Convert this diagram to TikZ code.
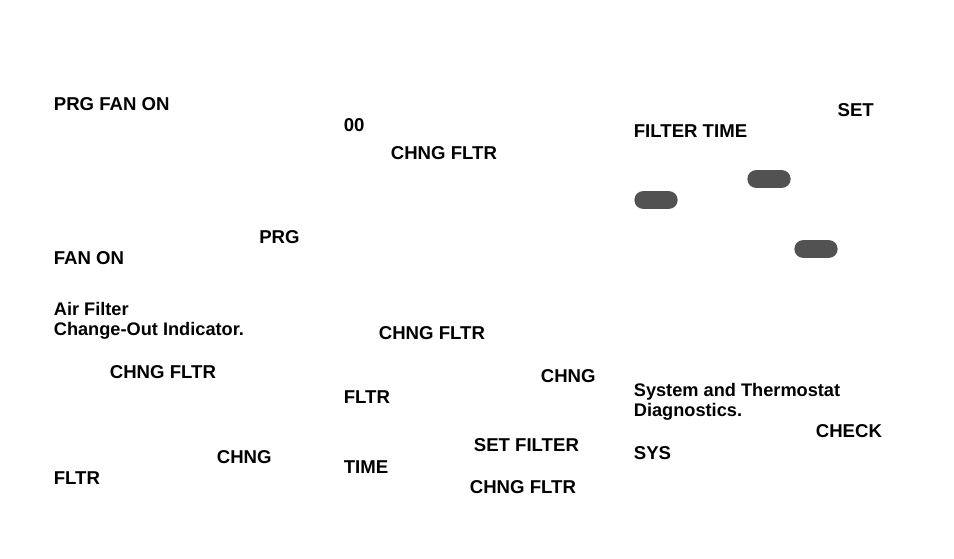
\documentclass[tikz,border=0pt]{standalone}
\usepackage{fontspec}
\setmainfont{Liberation Sans}
\usetikzlibrary{positioning}
\tikzset{lbl/.style={anchor=base west,inner sep=0pt,font=\fontsize{13.95}{15}\selectfont\bfseries},
sentence/.style={lbl,font=\fontsize{13.65}{15}\selectfont\bfseries},
btn/.style={draw=none,fill=black!68,rounded corners=6.6pt,minimum width=1.14cm,minimum height=.47cm,inner sep=0pt}}
\begin{document}
\begin{tikzpicture}[x=1pt,y=-1pt,scale=.75]
\useasboundingbox (0,0) rectangle (954,558);
\node[lbl] at (53.6,110) (prgfan) {PRG FAN ON};
\node[lbl] at (259,243) (prg) {PRG};
\node[lbl] at (53.6,264) (fanon) {FAN ON};
\node[sentence] at (53.6,315) (airfilter) {Air Filter};
\node[sentence] at (53.6,335) (changeout) {Change-Out Indicator.};
\node[lbl] at (109.6,378) (chngfltra) {CHNG FLTR};
\node[lbl] at (216.6,463) (chnga) {CHNG};
\node[lbl] at (53.6,484) (fltra) {FLTR};
\node[lbl] at (343.6,131) (zero) {00};
\node[lbl] at (390.6,159) (chngfltrb) {CHNG FLTR};
\node[lbl] at (378.6,339) (chngfltrc) {CHNG FLTR};
\node[lbl] at (540.6,382) (chngb) {CHNG};
\node[lbl] at (343.6,403) (fltrb) {FLTR};
\node[lbl] at (473.6,451) (setfilter) {SET FILTER};
\node[lbl] at (343.6,473) (timea) {TIME};
\node[lbl] at (469.6,493) (chngfltrd) {CHNG FLTR};
\node[lbl] at (837.4,116) (set) {SET};
\node[lbl] at (633.6,137) (filtertime) {FILTER TIME};
\node[btn] at (769,179) (btna) {};
\node[btn] at (656,200) (btnb) {};
\node[btn] at (816,249) (btnc) {};
\node[sentence] at (633.6,396) (system) {System and Thermostat};
\node[sentence] at (633.6,416) (diag) {Diagnostics.};
\node[lbl] at (815.6,437) (check) {CHECK};
\node[lbl] at (633.6,459) (sys) {SYS};
\end{tikzpicture}
\end{document}
